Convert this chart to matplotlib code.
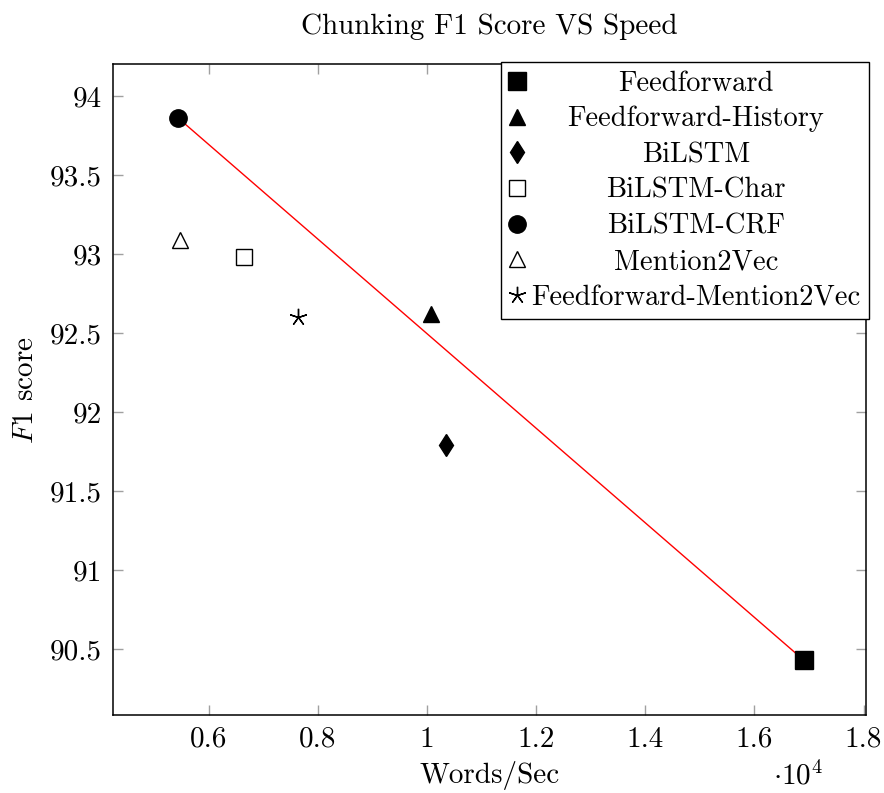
import matplotlib
matplotlib.use("Agg")
import matplotlib.pyplot as plt
from matplotlib.ticker import FuncFormatter

plt.rcParams["font.family"] = "cmr10"
plt.rcParams["mathtext.fontset"] = "cm"
plt.rcParams["axes.formatter.use_mathtext"] = True

# data: words/sec and F1 score per model
models = ["Feedforward", "Feedforward-History", "BiLSTM", "BiLSTM-Char",
          "BiLSTM-CRF", "Mention2Vec", "Feedforward-Mention2Vec"]
speed = [16900, 10070, 10350, 6650, 5440, 5480, 7630]
f1 = [90.43, 92.62, 91.79, 92.98, 93.86, 93.09, 92.60]

# red line joins BiLSTM-CRF and Feedforward
line_x = [5440, 16900]
line_y = [93.86, 90.43]

x_ticks = [6000, 8000, 10000, 12000, 14000, 16000, 18000]
y_ticks = [90.5, 91, 91.5, 92, 92.5, 93, 93.5, 94]

# marker styles, one per model
styles = [
    dict(marker="s", ms=12.5, mfc="black", mec="black"),
    dict(marker="^", ms=12, mfc="black", mec="black"),
    dict(marker="d", ms=11.5, mfc="black", mec="black"),
    dict(marker="s", ms=11.5, mfc="white", mec="black", mew=1.0),
    dict(marker="o", ms=12.5, mfc="black", mec="black"),
    dict(marker="^", ms=11, mfc="white", mec="black", mew=1.0),
    dict(marker=(5, 2, 0), ms=12.5, mfc="black", mec="black", mew=1.0),
]

FS = 21

fig = plt.figure(figsize=(8.84, 7.93), dpi=100)
ax = fig.add_axes([0.128, 0.098, 0.852, 0.821])

ax.plot(line_x, line_y, color="red", lw=1.0, zorder=2)
for name, x, y, st in zip(models, speed, f1, styles):
    ax.plot([x], [y], linestyle="none", label=name, zorder=3, **st)

ax.set_xlim(4250, 18050)
ax.set_ylim(90.08, 94.2)
ax.set_xticks(x_ticks)
ax.set_yticks(y_ticks)
ax.xaxis.set_major_formatter(FuncFormatter(lambda v, p: f"{v / 1e4:g}"))
ax.yaxis.set_major_formatter(FuncFormatter(lambda v, p: f"{v:g}"))
ax.tick_params(direction="in", length=7, width=1.0, color="#a0a0a0",
               top=True, right=True, labelsize=FS, pad=8)
for sp in ax.spines.values():
    sp.set_linewidth(1.1)

ax.set_title("Chunking F1 Score VS Speed", fontsize=FS, pad=22)
ax.set_xlabel("Words/Sec", fontsize=FS, labelpad=6)
ax.set_ylabel(r"$F1$ score", fontsize=FS, labelpad=8)
ax.text(0.91, -0.093, r"$\cdot 10^4$", transform=ax.transAxes,
        fontsize=FS, ha="center", va="center")

leg = ax.legend(loc="upper right", bbox_to_anchor=(1.003, 1.003),
                borderaxespad=0, fancybox=False, framealpha=1,
                edgecolor="black", fontsize=20.5, handlelength=0.6,
                handletextpad=0.2, labelspacing=0.33, borderpad=0.28,
                numpoints=1)
leg.get_frame().set_linewidth(1.0)

# center legend labels like pgfplots
fig.canvas.draw()
rend = fig.canvas.get_renderer()
texts = leg.get_texts()
widths = [t.get_window_extent(rend).width for t in texts]
wmax = max(widths)
for t, w in zip(texts, widths):
    t.set_x((wmax - w) / 2)

fig.savefig("out.png", dpi=100)
